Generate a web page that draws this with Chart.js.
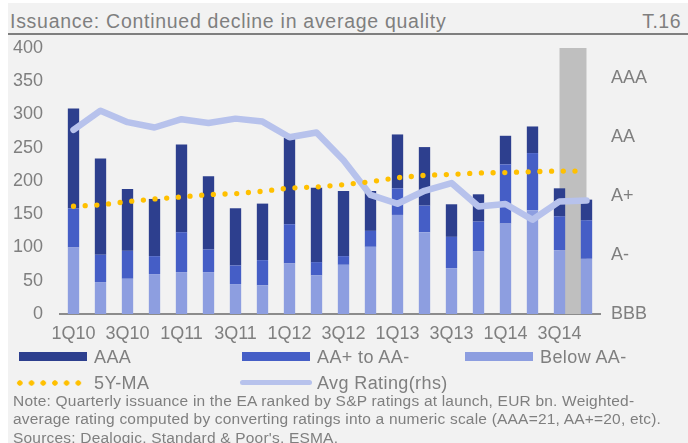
<!DOCTYPE html>
<html>
<head>
<meta charset="utf-8">
<script src="https://cdn.jsdelivr.net/npm/chart.js@4"></script>
<style>
	html, body { margin: 0; padding: 0; background: #ffffff; }
	body { width: 688px; height: 443px; position: relative; overflow: hidden; font-family: "Liberation Sans", Arial, sans-serif; color: #7f7f7f; }
	#panel { position: absolute; left: 8px; top: 3px; width: 680px; height: 440px; background: #f2f2f2; }
	#title { position: absolute; left: 10px; top: 12px; font-size: 19.5px; line-height: 19px; letter-spacing: 0.72px; white-space: nowrap; }
	#tag { position: absolute; right: 7px; top: 12px; font-size: 19.5px; line-height: 19px; letter-spacing: 0.5px; }
	#rule { position: absolute; left: 8px; top: 33px; width: 680px; height: 2px; background: #7f7f7f; }
	#wrap { position: absolute; left: 0; top: 0; width: 688px; height: 345px; }
	#legend { position: absolute; left: 0; top: 0; width: 688px; height: 443px; pointer-events: none; }
	.key { position: absolute; height: 20px; }
	.key .txt { position: absolute; font-size: 18px; line-height: 20px; letter-spacing: 0.4px; white-space: nowrap; top: 0; }
	.key .sw { position: absolute; }
	#note { position: absolute; left: 13px; top: 392px; font-size: 15.5px; line-height: 18.3px; letter-spacing: 0.2px; white-space: nowrap; }
</style>
</head>
<body>
<div id="panel"></div>
<div id="title">Issuance: Continued decline in average quality</div>
<div id="tag">T.16</div>
<div id="rule"></div>
<div id="wrap"><canvas id="chart"></canvas></div>
<div id="legend"></div>
<div id="note">Note: Quarterly issuance in the EA ranked by S&amp;P ratings at launch, EUR bn. Weighted-<br>average rating computed by converting ratings into a numeric scale (AAA=21, AA+=20, etc).<br>Sources: Dealogic, Standard &amp; Poor's, ESMA.</div>
<script>
"use strict";

// quarters 1Q10 .. 4Q14
const quarters = [
	"1Q10", "2Q10", "3Q10", "4Q10",
	"1Q11", "2Q11", "3Q11", "4Q11",
	"1Q12", "2Q12", "3Q12", "4Q12",
	"1Q13", "2Q13", "3Q13", "4Q13",
	"1Q14", "2Q14", "3Q14", "4Q14",
];

// EUR bn
const issAAA = [150, 145, 93, 86, 132, 110, 86, 85, 130, 112, 98, 60, 81, 88, 49, 41, 43, 40, 42, 31];
const issAA = [59, 41, 42, 27, 60, 34, 28, 38, 59, 20, 13, 24, 40, 40, 47, 45, 89, 86, 51, 58];
const issBelowAA = [100, 48, 53, 60, 63, 63, 45, 43, 76, 58, 74, 101, 149, 123, 69, 94, 136, 156, 96, 83];

const ma5y = [162, 164, 169, 173, 176, 179.5, 181, 184.5, 189.5, 191, 194.5, 199, 205, 208.5, 210, 212, 212.7, 214, 215, 215];

// numeric scale, AAA=21, AA+=20, ...
const avgRating = [19.23, 19.88, 19.49, 19.31, 19.59, 19.46, 19.61, 19.51, 18.98, 19.14, 18.2, 17.03, 16.73, 17.17, 17.43, 16.64, 16.72, 16.19, 16.81, 16.84];

const ratingTickValues = [13, 15, 17, 19, 21];
const ratingTickNames = ["BBB", "A-", "A+", "AA", "AAA"];

// shaded band runs from this quarter to the next one
const highlightFrom = "3Q14";
const highlightTo = "4Q14";

const textColor = "#7f7f7f";

Chart.defaults.font.family = "'Liberation Sans', Arial, sans-serif";
Chart.defaults.font.size = 18;
Chart.defaults.color = textColor;

const bandPlugin = {
	id: "band",
	beforeDatasetsDraw(chart) {
		const x = chart.scales.x;
		const y = chart.scales.y;
		const ctx = chart.ctx;
		const x0 = x.getPixelForValue(quarters.indexOf(highlightFrom));
		const x1 = x.getPixelForValue(quarters.indexOf(highlightTo));
		const y0 = y.getPixelForValue(y.max);
		const y1 = y.getPixelForValue(y.min);
		ctx.save();
		ctx.fillStyle = "#bfbfbf";
		ctx.fillRect(x0, y0, x1 - x0, y1 - y0);
		ctx.restore();
	},
};

const barCommon = {
	type: "bar",
	yAxisID: "y",
	stack: "iss",
	barPercentage: 0.42,
	categoryPercentage: 1,
	borderWidth: 0,
};

const chart = new Chart(document.getElementById("chart"), {
	data: {
		labels: quarters,
		datasets: [
			{
				type: "line",
				label: "5Y-MA",
				data: ma5y,
				yAxisID: "y",
				order: 0,
				borderColor: "#ffc000",
				borderWidth: 5.3,
				borderDash: [0, 11.7],
				borderCapStyle: "round",
				pointRadius: 0,
				tension: 0,
			},
			{
				type: "line",
				label: "Avg Rating(rhs)",
				data: avgRating,
				yAxisID: "y2",
				order: 1,
				borderColor: "#b7c2ec",
				borderWidth: 6.5,
				borderJoinStyle: "round",
				borderCapStyle: "round",
				pointRadius: 0,
				tension: 0,
			},
			Object.assign({}, barCommon, { label: "Below AA-", data: issBelowAA, backgroundColor: "#8d9ee0", order: 2 }),
			Object.assign({}, barCommon, { label: "AA+ to AA-", data: issAA, backgroundColor: "#455ec6", order: 3 }),
			Object.assign({}, barCommon, { label: "AAA", data: issAAA, backgroundColor: "#2d3f8e", order: 4 }),
		],
	},
	options: {
		responsive: true,
		maintainAspectRatio: false,
		animation: false,
		events: [],
		layout: { padding: { top: 48, left: 0, right: 0, bottom: 0 } },
		plugins: {
			legend: { display: false },
			tooltip: { enabled: false },
		},
		scales: {
			x: {
				offset: true,
				grid: { display: true, drawOnChartArea: false, drawTicks: false, color: "rgba(0,0,0,0)" },
				border: { display: true, color: "#8c8c8c", width: 2 },
				ticks: {
					autoSkip: false,
					maxRotation: 0,
					padding: 9,
					callback: (v, i) => (i % 2 === 0 ? quarters[i] : ""),
				},
				afterFit: (s) => { s.height = 31; },
			},
			y: {
				position: "left",
				stacked: true,
				min: 0,
				max: 400,
				grid: { display: false, drawTicks: false },
				border: { display: false },
				ticks: { stepSize: 50, padding: 17 },
				afterFit: (s) => { s.width = 60; },
			},
			y2: {
				position: "right",
				min: 13,
				max: 22,
				grid: { display: false, drawTicks: false },
				border: { display: false },
				afterBuildTicks: (s) => { s.ticks = ratingTickValues.map(v => ({ value: v })); },
				ticks: {
					padding: 11,
					callback: (v) => ratingTickNames[ratingTickValues.indexOf(v)],
				},
				afterFit: (s) => { s.width = 88; },
			},
		},
	},
	plugins: [bandPlugin],
});

// legend laid out as in the source, two rows
const legendSlots = [
	{ label: "AAA", left: 19, top: 347 },
	{ label: "AA+ to AA-", left: 242, top: 347 },
	{ label: "Below AA-", left: 465, top: 347 },
	{ label: "5Y-MA", left: 14, top: 373 },
	{ label: "Avg Rating(rhs)", left: 240, top: 373 },
];

const legendBox = document.getElementById("legend");
for (const slot of legendSlots) {
	const ds = chart.data.datasets.find(d => d.label === slot.label);
	const key = document.createElement("div");
	key.className = "key";
	key.style.left = slot.left + "px";
	key.style.top = slot.top + "px";
	const sw = document.createElement("span");
	sw.className = "sw";
	const txt = document.createElement("span");
	txt.className = "txt";
	txt.textContent = ds.label;
	if (ds.type === "bar") {
		sw.style.left = "0px";
		sw.style.top = "5px";
		sw.style.width = "68px";
		sw.style.height = "9px";
		sw.style.background = ds.backgroundColor;
		txt.style.left = "75px";
	} else if (ds.borderDash) {
		sw.style.left = "0px";
		sw.style.top = "7px";
		sw.style.width = "70px";
		sw.style.height = "6px";
		sw.style.background = `radial-gradient(circle, ${ds.borderColor} 2.4px, rgba(0,0,0,0) 3px) 0 0 / 11.7px 6px repeat-x`;
		txt.style.left = "80px";
	} else {
		sw.style.left = "0px";
		sw.style.top = "7px";
		sw.style.width = "72px";
		sw.style.height = "5px";
		sw.style.borderRadius = "3px";
		sw.style.background = ds.borderColor;
		txt.style.left = "77px";
	}
	key.appendChild(sw);
	key.appendChild(txt);
	legendBox.appendChild(key);
}
</script>
</body>
</html>
